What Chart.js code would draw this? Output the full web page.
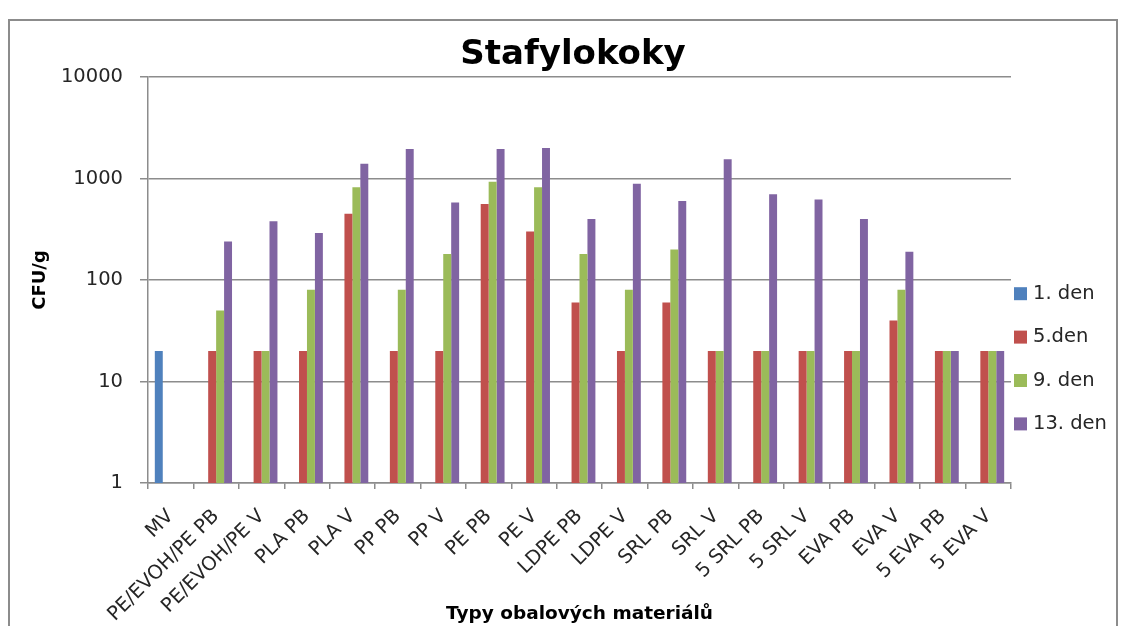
<!DOCTYPE html>
<html>
<head>
<meta charset="utf-8">
<script src="https://cdn.jsdelivr.net/npm/chart.js@4/dist/chart.umd.min.js"></script>
<style>
  html, body { margin: 0; padding: 0; background: #ffffff; }
  canvas { display: block; }
</style>
</head>
<body>
<canvas id="chart" width="1124" height="626"></canvas>
<script>
// Packaging materials tested
const categories = [
  'MV', 'PE/EVOH/PE PB', 'PE/EVOH/PE V', 'PLA PB', 'PLA V', 'PP PB', 'PP V',
  'PE PB', 'PE V', 'LDPE PB', 'LDPE V', 'SRL PB', 'SRL V', '5 SRL PB', '5 SRL V',
  'EVA PB', 'EVA V', '5 EVA PB', '5 EVA V'
];

// Staphylococci counts (CFU/g) per sampling day
const day1  = [20, null, null, null, null, null, null, null, null, null, null, null, null, null, null, null, null, null, null];
const day5  = [null, 20, 20, 20, 450, 20, 20, 560, 300, 60, 20, 60, 20, 20, 20, 20, 40, 20, 20];
const day9  = [null, 50, 20, 80, 820, 80, 180, 930, 820, 180, 80, 200, 20, 20, 20, 20, 80, 20, 20];
const day13 = [null, 240, 380, 290, 1400, 1950, 580, 1950, 2000, 400, 890, 600, 1550, 700, 620, 400, 190, 20, 20];

const seriesNames  = ['1. den', '5.den', '9. den', '13. den'];
const seriesColors = ['#4F81BD', '#C0504D', '#9BBB59', '#8064A2'];

// Logarithmic axis ticks
const yTicks = [1, 10, 100, 1000, 10000];

const FONT = 'DejaVu Sans';
const GRID = '#8c8c8c';
const TEXT = '#262626';

// Outer frame around the whole chart object
const framePlugin = {
  id: 'frame',
  beforeDraw(chart) {
    const ctx = chart.ctx;
    ctx.save();
    ctx.strokeStyle = GRID;
    ctx.lineWidth = 2;
    ctx.strokeRect(9, 20, 1108, 700);
    ctx.restore();
  }
};

// Legend in the right margin next to the plot
const sideLegend = {
  id: 'sideLegend',
  afterDraw(chart) {
    const { ctx, chartArea } = chart;
    ctx.save();
    ctx.font = '19.5px "' + FONT + '"';
    ctx.textBaseline = 'middle';
    ctx.textAlign = 'left';
    chart.data.datasets.forEach((ds, i) => {
      const cy = 293.7 + i * 43.4;
      ctx.fillStyle = ds.backgroundColor;
      ctx.fillRect(chartArea.right + 3, cy - 6.5, 13, 13);
      ctx.fillStyle = TEXT;
      ctx.fillText(ds.label, chartArea.right + 22, cy);
    });
    ctx.restore();
  }
};

const seriesData = [day1, day5, day9, day13];

new Chart(document.getElementById('chart'), {
  type: 'bar',
  data: {
    labels: categories,
    datasets: seriesData.map((d, i) => ({
      label: seriesNames[i],
      data: d,
      backgroundColor: seriesColors[i],
      borderWidth: 0,
      categoryPercentage: 0.7,
      barPercentage: 1.0
    }))
  },
  options: {
    responsive: false,
    animation: false,
    devicePixelRatio: 1,
    layout: { padding: { left: 22, right: 0, top: 20, bottom: 0 } },
    plugins: {
      legend: { display: false },
      tooltip: { enabled: false },
      title: {
        display: true,
        text: 'Stafylokoky',
        color: '#000000',
        font: { family: FONT, weight: 'bold', size: 34 },
        padding: { top: 15, bottom: 1.2 }
      }
    },
    scales: {
      x: {
        type: 'category',
        offset: true,
        grid: { offset: true, drawOnChartArea: false, drawTicks: true, tickLength: 6, color: GRID, lineWidth: 1.5 },
        border: { color: GRID, width: 1.5 },
        ticks: {
          autoSkip: false, minRotation: 45, maxRotation: 45, padding: 16,
          color: TEXT, font: { family: FONT, size: 19.5 }
        },
        title: {
          display: true,
          text: 'Typy obalových materiálů',
          color: '#000000',
          font: { family: FONT, weight: 'bold', size: 18.5 },
          padding: { top: 0, bottom: 1 }
        },
        afterFit(scale) { scale.height = 143; }
      },
      y: {
        type: 'logarithmic',
        min: 1,
        max: 10000,
        afterBuildTicks(scale) { scale.ticks = yTicks.map(v => ({ value: v })); },
        afterFit(scale) { scale.width = 126; },
        grid: { color: GRID, lineWidth: 1.5, tickLength: 8, drawTicks: true },
        border: { color: GRID, width: 1.5 },
        ticks: {
          padding: 17, color: TEXT, font: { family: FONT, size: 19.5 },
          callback: (v) => String(v)
        },
        title: {
          display: true,
          text: 'CFU/g',
          color: '#000000',
          font: { family: FONT, weight: 'bold', size: 18 },
          padding: { top: 8, bottom: 0 }
        }
      },
      // reserves the right margin that holds the legend
      legendSpace: {
        type: 'linear',
        position: 'right',
        display: true,
        grid: { display: false, drawTicks: false },
        border: { display: false },
        ticks: { display: false },
        afterFit(scale) { scale.width = 113; }
      }
    }
  },
  plugins: [framePlugin, sideLegend]
});
</script>
</body>
</html>
